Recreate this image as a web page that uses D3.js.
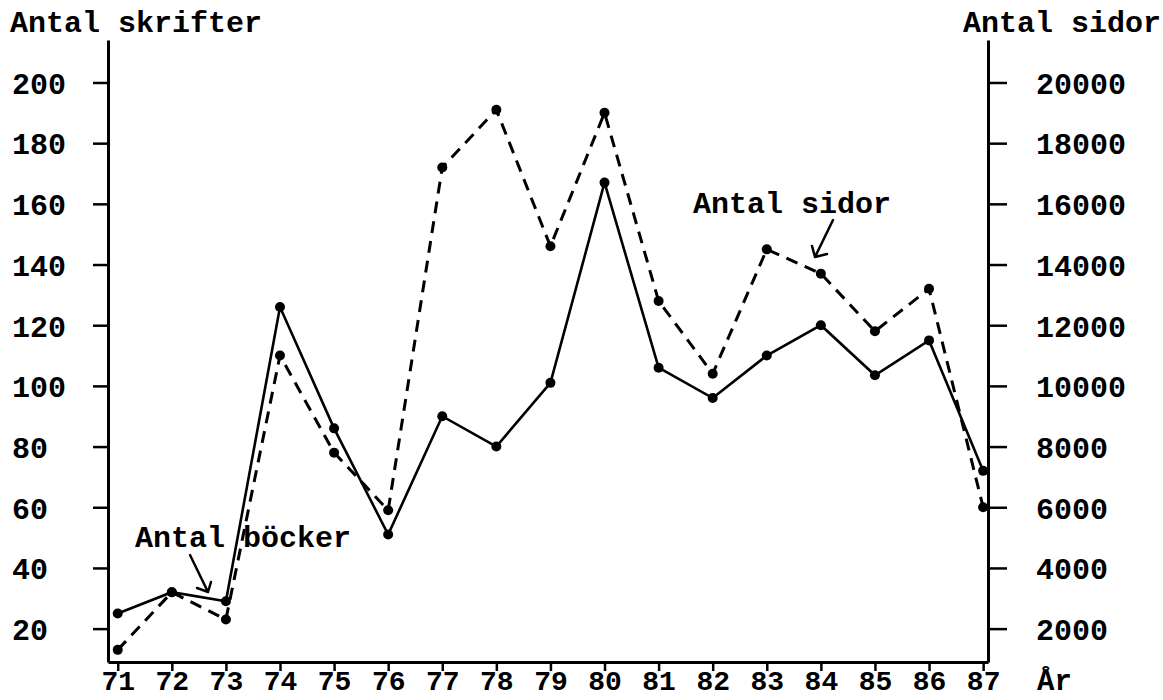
<!DOCTYPE html>
<html>
<head>
<meta charset="utf-8">
<script src="https://cdn.jsdelivr.net/npm/d3@7"></script>
<style>
  html, body { margin: 0; padding: 0; background: #fff; }
  svg { display: block; }
  text { font-family: "Liberation Mono", "DejaVu Sans Mono", monospace; font-weight: bold; fill: #000; }
</style>
</head>
<body>
<svg id="chart" width="1163" height="700"></svg>
<script>
// ---- data ----
const years = [71, 72, 73, 74, 75, 76, 77, 78, 79, 80, 81, 82, 83, 84, 85, 86, 87];
const books = [25, 32, 29, 126, 86, 51, 90, 80, 101, 167, 106, 96, 110, 120, 103.5, 115, 72];       // Antal böcker (left axis)
const pages = [1300, 3200, 2300, 11000, 7800, 5900, 17200, 19100, 14600, 19000, 12800, 10400, 14500, 13700, 11800, 13200, 6000]; // Antal sidor (right axis)
const leftTicks = [20, 40, 60, 80, 100, 120, 140, 160, 180, 200];
const rightTicks = [2000, 4000, 6000, 8000, 10000, 12000, 14000, 16000, 18000, 20000];
const leftTitle = "Antal skrifter";
const rightTitle = "Antal sidor";
const xTitle = "År";
const booksLabel = "Antal böcker";
const pagesLabel = "Antal sidor";

// ---- layout ----
const svg = d3.select("#chart");
const mLeft = 108, mRight = 988, mTop = 40, mBottom = 662;

const x = d3.scaleLinear().domain([70.82, 87.09]).range([mLeft, mRight]);
const yL = d3.scaleLinear().domain([9, 214]).range([mBottom, mTop]);
const yR = d3.scaleLinear().domain([900, 21400]).range([mBottom, mTop]);

const fontSize = 30;

function styleAxis(g, fs) {
  g.select(".domain").attr("stroke", "#000").attr("stroke-width", 3);
  g.selectAll(".tick line").attr("stroke", "#000").attr("stroke-width", 2.5);
  g.selectAll(".tick text").attr("font-size", fs).attr("font-family", null).attr("font-weight", "bold");
}

// left axis
const gL = svg.append("g").attr("transform", `translate(${mLeft},0)`)
  .call(d3.axisLeft(yL).tickValues(leftTicks).tickSize(15).tickSizeOuter(0).tickFormat(d3.format("d")));
styleAxis(gL, fontSize);
gL.selectAll(".tick text").attr("text-anchor", "start").attr("x", 12 - mLeft).attr("dy", "0.36em");

// right axis
const gR = svg.append("g").attr("transform", `translate(${mRight},0)`)
  .call(d3.axisRight(yR).tickValues(rightTicks).tickSize(19).tickPadding(29).tickSizeOuter(0).tickFormat(d3.format("d")));
styleAxis(gR, fontSize);
gR.selectAll(".tick text").attr("dy", "0.36em");

// bottom axis
const gB = svg.append("g").attr("transform", `translate(0,${mBottom})`)
  .call(d3.axisBottom(x).tickValues(years).tickSize(9).tickPadding(0).tickFormat(d3.format("d")).tickSizeOuter(0));
styleAxis(gB, 28);
gB.selectAll(".tick text").attr("y", 28).attr("dy", 0);

// titles
svg.append("text").attr("x", 10).attr("y", 32).attr("font-size", fontSize).text(leftTitle);
svg.append("text").attr("x", 963).attr("y", 32).attr("font-size", fontSize).text(rightTitle);
svg.append("text").attr("x", 1037).attr("y", 690).attr("font-size", 29).text(xTitle);

// annotations
svg.append("text").attr("x", 135).attr("y", 547).attr("font-size", fontSize).text(booksLabel);
svg.append("text").attr("x", 693).attr("y", 213).attr("font-size", fontSize).text(pagesLabel);

const arrowStyle = s => s.attr("stroke", "#000").attr("stroke-width", 2.5).attr("fill", "none")
  .attr("stroke-linecap", "round").attr("stroke-linejoin", "round");
svg.append("path").attr("d", "M190,555 L208,592 M197,588 L208,592 L211,582").call(arrowStyle);
svg.append("path").attr("d", "M833,220 L815,257 M812,246 L815,257 L827,254").call(arrowStyle);

// lines
const booksData = years.map((yr, i) => ({ yr, v: books[i] }));
const pagesData = years.map((yr, i) => ({ yr, v: pages[i] }));

const lineL = d3.line().x(d => x(d.yr)).y(d => yL(d.v));
const lineR = d3.line().x(d => x(d.yr)).y(d => yR(d.v));

svg.append("path").datum(pagesData).attr("d", lineR)
  .attr("fill", "none").attr("stroke", "#000").attr("stroke-width", 3)
  .attr("stroke-dasharray", "12,8");
svg.append("path").datum(booksData).attr("d", lineL)
  .attr("fill", "none").attr("stroke", "#000").attr("stroke-width", 2.6);

svg.append("g").selectAll("circle").data(pagesData).join("circle")
  .attr("cx", d => x(d.yr)).attr("cy", d => yR(d.v)).attr("r", 5).attr("fill", "#000");
svg.append("g").selectAll("circle").data(booksData).join("circle")
  .attr("cx", d => x(d.yr)).attr("cy", d => yL(d.v)).attr("r", 5).attr("fill", "#000");
</script>
</body>
</html>
